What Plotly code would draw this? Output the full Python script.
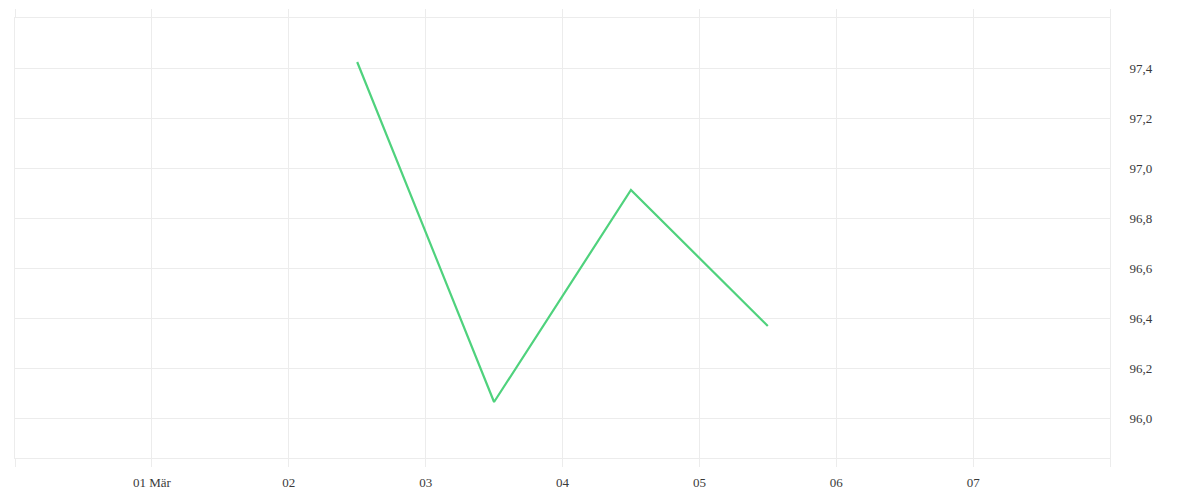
import plotly.graph_objects as go

# daily values, sampled at noon
dates = ["2023-03-02 12:00", "2023-03-03 12:00", "2023-03-04 12:00", "2023-03-05 12:00"]
values = [97.424, 96.064, 96.912, 96.368]

tick_dates = ["2023-02-28", "2023-03-01", "2023-03-02", "2023-03-03", "2023-03-04",
              "2023-03-05", "2023-03-06", "2023-03-07", "2023-03-08"]
tick_labels = ["", "01 Mär", "02", "03", "04", "05", "06", "07", ""]

y_ticks = [96.0, 96.2, 96.4, 96.6, 96.8, 97.0, 97.2, 97.4]
y_labels = ["96,0", "96,2", "96,4", "96,6", "96,8", "97,0", "97,2", "97,4"]

GRID = "#ececec"

fig = go.Figure()
fig.add_trace(go.Scatter(
    x=dates, y=values, mode="lines",
    line=dict(color="#4fd27d", width=2.2),
    hoverinfo="skip", showlegend=False,
))

# page body adds 8px offset, margins account for it
fig.update_layout(
    width=1200, height=500,
    margin=dict(l=7, r=98, t=10, b=50),
    paper_bgcolor="white", plot_bgcolor="white",
    font=dict(family="Liberation Serif", size=13, color="#3a3a3a"),
    separators=",.",
)
fig.update_xaxes(
    type="date", range=["2023-02-28", "2023-03-08"],
    tickvals=tick_dates, ticktext=tick_labels,
    showgrid=True, gridcolor=GRID, gridwidth=1,
    showline=True, linecolor=GRID, linewidth=1, mirror="ticks",
    ticks="outside", ticklen=8, tickcolor=GRID, tickwidth=1,
    ticklabelstandoff=4, zeroline=False, automargin=False,
)
fig.update_yaxes(
    side="right", range=[95.84, 97.6],
    tickvals=y_ticks, ticktext=y_labels,
    showgrid=True, gridcolor=GRID, gridwidth=1,
    showline=True, linecolor=GRID, linewidth=1, mirror=True,
    ticks="", ticklabelstandoff=16, zeroline=False, automargin=False,
)

fig.write_html("out.html")
